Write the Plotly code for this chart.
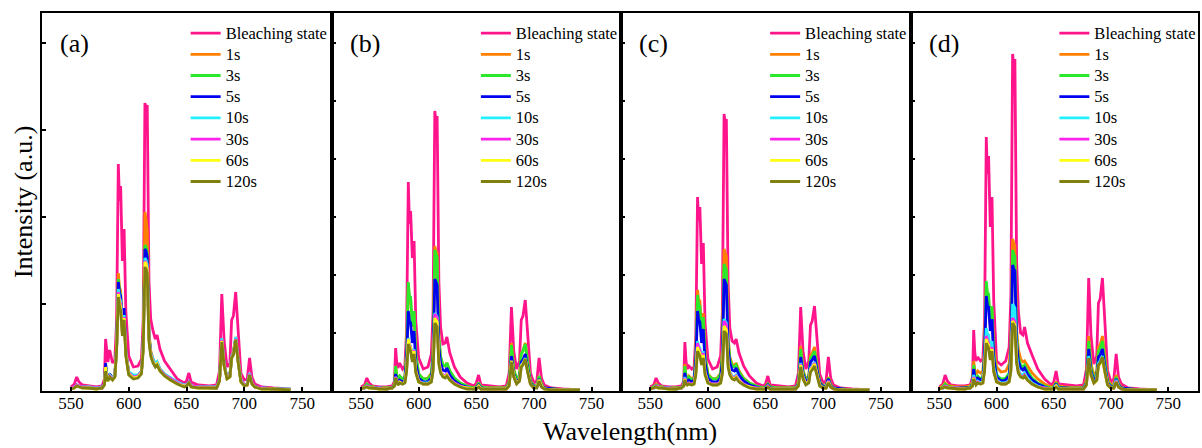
import plotly.graph_objects as go

# ---------------- data (intensity in a.u.) ----------------
wavelength = [550, 553, 555, 557, 560, 566, 572, 577, 579, 580,
              581, 582, 583.5, 586, 588, 589.5, 591, 592, 593, 594.5,
              596, 597.5, 600, 604, 608, 611, 612.5, 614, 615, 616,
              617.5, 619, 621, 623, 624.5, 627, 631, 636, 642, 648,
              650, 652, 654, 660, 670, 676, 678.5, 680.5, 682.5, 685,
              687.5, 689, 690.5, 692.5, 694.5, 697, 700, 702.5, 704.5, 706.5,
              709, 715, 725, 740]

series_names = ["Bleaching state", "1s", "3s", "5s", "10s", "30s", "60s", "120s"]
panel_labels = ["(a)", "(b)", "(c)", "(d)"]
x_ticks = [550, 600, 650, 700, 750]

# panel (a)
a_bleach = [4,7,14,9,6,5,4,5,12,52, 35,29,41,28,31,70,227,190,205,130,
            162,80,35,24,25,32,70,288,282,286, 110,72,60,52,56,42,30,22,12,8,
            10,18,9,6,5,6,20,97,50,24, 28,71,75,99,60,18,11,12,33,14, 7,4,3,2]
a_1s = [2,4,6,5,4,3,3,3,7,26, 15,12,17,13,16,46,118,104,100,66,
        80,40,19,14,15,20,48,179,172,160, 60,40,32,27,29,22,17,12,8,5,
        6,9,5,4,3,3,11,52,27,13, 15,35,39,54,32,10,6,7,17,8, 4,3,2,1]
a_3s = [2,4,6,5,4,3,3,3,7,25, 14,12,16,13,15,44,112,100,96,63,
        78,38,18,14,15,19,46,146,144,138, 56,38,31,26,28,21,16,12,8,5,
        6,9,5,4,3,3,11,51,26,13, 15,34,38,53,31,10,6,7,17,8, 4,3,2,1]
a_5s = [2,4,6,5,4,3,3,3,8,28, 15,13,17,13,15,44,109,98,95,62,
        83,38,18,14,15,19,45,142,140,134, 55,38,31,26,28,21,16,12,8,5,
        6,9,5,4,3,3,11,50,26,13, 15,34,37,52,31,10,6,7,17,8, 4,3,2,1]
a_10s = [2,4,6,5,4,4,3,4,7,22, 14,12,16,13,16,43,102,93,90,60,
         76,38,19,16,16,20,44,133,131,126, 54,38,32,27,29,22,17,13,9,6,
         6,9,5,4,4,4,11,53,27,14, 16,35,38,54,32,11,6,7,18,8, 4,3,2,2]
a_30s = [2,4,6,5,4,3,3,3,7,21, 13,11,15,12,15,42,99,90,87,58,
         74,37,18,14,15,19,43,130,128,123, 52,37,30,25,27,21,16,12,8,5,
         5,9,5,4,3,3,10,51,26,13, 15,34,37,52,31,10,6,6,17,8, 4,3,2,1]
a_60s = [2,3,5,4,3,3,2,3,6,24, 12,10,14,11,14,41,97,88,84,57,
         73,36,17,13,14,18,42,129,127,121, 51,36,29,25,27,20,15,11,7,5,
         5,8,4,3,3,3,10,50,25,12, 14,33,36,51,30,9,5,6,16,7, 4,2,2,1]
a_120s = [2,3,5,4,3,3,2,3,6,20, 12,10,14,11,14,40,94,85,80,55,
          71,35,16,12,13,17,40,124,122,118, 50,35,28,24,26,20,15,11,7,4,
          5,8,4,3,3,3,10,49,25,12, 14,33,36,51,30,9,5,6,16,7, 4,2,2,1]

# panel (b)
b_bleach = [4,6,13,8,5,4,4,5,10,43, 28,23,28,22,25,60,209,167,180,133,
            150,70,33,22,24,37,80,280,270,275, 110,64,47,48,54,38,24,14,8,5,
            8,16,6,5,4,5,18,84,40,22, 30,71,75,91,55,18,8,10,33,13, 6,3,2,1]
b_1s = [2,4,7,5,4,3,3,3,7,25, 15,12,15,12,14,38,105,92,92,64,
        78,36,17,12,13,18,40,145,140,138, 55,34,26,25,28,20,13,8,5,3,
        4,8,4,3,3,3,9,48,22,12, 16,38,40,48,30,10,5,5,15,7, 3,2,1,1]
b_3s = [2,4,7,5,4,3,3,3,7,25, 15,12,15,12,14,40,109,95,94,65,
        80,37,17,12,12,17,39,141,137,134, 54,34,26,25,28,20,13,8,5,3,
        4,8,4,3,3,3,9,46,21,12, 16,37,40,47,30,10,5,5,15,7, 3,2,1,1]
b_5s = [2,3,5,4,3,3,2,3,6,17, 11,9,11,9,11,30,80,70,68,48,
        60,28,13,9,9,13,30,112,108,106, 43,28,21,20,23,16,10,6,4,2,
        3,6,3,2,2,2,7,35,17,9, 12,29,31,37,23,8,4,4,12,5, 3,2,1,1]
b_10s = [2,3,5,4,3,3,2,3,5,14, 9,7,9,7,9,22,53,47,45,33,
         42,20,10,8,8,10,22,78,76,74, 31,20,16,15,17,12,8,5,3,2,
         2,5,2,2,2,2,6,30,15,8, 10,26,28,33,20,7,3,4,11,5, 2,1,1,1]
b_30s = [2,3,5,4,3,3,2,3,5,14, 9,7,9,7,9,22,52,46,44,32,
         41,20,10,7,7,10,22,77,75,73, 30,20,16,15,17,12,8,5,3,2,
         2,5,2,2,2,2,6,30,15,8, 10,25,27,32,20,7,3,4,11,5, 2,1,1,1]
b_60s = [2,3,4,3,3,2,2,3,5,13, 8,7,9,7,9,21,52,45,43,31,
         40,19,9,7,7,10,21,73,71,69, 29,19,15,14,16,11,7,4,3,2,
         2,5,2,2,2,2,6,30,15,8, 10,25,27,32,20,7,3,4,11,5, 2,1,1,1]
b_120s = [2,3,4,3,3,2,2,3,5,13, 8,6,8,7,8,19,47,42,40,29,
          37,18,9,7,7,9,20,68,66,64, 27,18,14,13,15,11,7,4,2,2,
          2,4,2,2,2,2,5,29,14,7, 10,24,26,32,19,7,3,3,10,4, 2,1,1,1]

# panel (c)
c_bleach = [4,6,13,8,5,4,4,5,10,49, 30,22,25,22,24,55,194,170,184,127,
            148,68,32,22,24,35,78,277,268,272, 108,63,50,48,52,38,25,15,8,5,
            7,15,6,5,4,5,18,84,40,22, 30,66,70,85,52,17,8,10,34,13, 6,3,2,1]
c_1s = [2,4,7,5,4,3,3,3,7,27, 15,12,15,12,14,37,101,90,90,62,
        78,36,17,12,13,18,40,142,138,135, 55,34,27,25,28,20,13,8,5,3,
        4,8,4,3,3,3,9,45,21,12, 15,36,38,44,28,9,5,5,14,7, 3,2,1,1]
c_3s = [2,4,6,5,4,3,3,3,7,25, 14,11,14,11,13,35,96,86,85,59,
        74,34,16,12,12,17,37,127,124,121, 50,32,25,24,26,19,12,8,5,3,
        4,7,4,3,3,3,8,42,20,11, 14,33,35,40,26,9,5,5,13,6, 3,2,1,1]
c_5s = [2,3,5,4,3,3,2,3,6,18, 11,9,11,9,11,30,80,71,69,48,
        62,28,13,9,9,13,30,112,108,106, 43,28,21,20,23,16,10,6,4,2,
        3,6,3,2,2,2,7,34,17,9, 12,29,31,35,22,8,4,4,12,5, 3,2,1,1]
c_10s = [2,3,5,4,3,3,2,3,5,14, 8,7,8,7,8,20,50,45,43,31,
         40,19,9,7,7,9,20,72,70,68, 29,19,15,14,16,11,7,4,3,2,
         2,5,2,2,2,2,6,28,14,7, 9,23,25,29,18,6,3,3,10,4, 2,1,1,1]
c_30s = [2,3,5,4,3,3,2,3,5,13, 8,7,8,7,8,19,48,43,41,30,
         38,18,9,7,7,9,19,70,68,66, 28,18,14,13,15,11,7,4,3,2,
         2,5,2,2,2,2,6,27,14,7, 9,22,24,28,18,6,3,3,10,4, 2,1,1,1]
c_60s = [2,3,4,3,3,2,2,3,5,12, 7,6,7,6,7,18,44,40,38,28,
         36,17,8,6,6,8,18,65,63,61, 26,17,13,12,14,10,6,4,2,2,
         2,4,2,2,2,2,5,26,13,7, 9,21,23,27,17,6,3,3,9,4, 2,1,1,1]
c_120s = [2,3,4,3,3,2,2,3,5,11, 7,6,7,6,7,16,40,37,35,26,
          33,16,8,6,6,8,17,60,58,57, 24,16,12,11,13,9,6,3,2,2,
          2,4,2,2,2,2,5,24,12,6, 8,19,21,25,16,5,3,3,8,4, 2,1,1,1]

# panel (d)
d_bleach = [4,7,16,10,6,5,5,6,14,61, 38,30,34,30,32,70,254,217,235,164,
            194,90,30,26,30,44,95,337,325,332, 130,80,58,56,64,48,36,22,12,6,
            9,20,7,6,5,6,22,113,55,27, 35,88,92,113,70,20,9,12,37,14, 7,3,2,1]
d_1s = [3,5,8,6,5,4,4,5,9,30, 20,17,20,18,20,42,105,95,93,66,
        82,42,24,19,20,27,50,152,148,145, 62,42,32,29,30,25,18,12,7,4,
        5,9,5,4,3,4,11,55,28,15, 20,44,46,55,35,12,6,7,16,8, 4,2,1,1]
d_3s = [2,4,7,5,4,3,3,4,8,26, 15,12,15,12,14,40,110,98,97,68,
        85,38,16,12,13,18,40,141,137,134, 54,34,26,24,26,20,13,8,5,3,
        4,8,4,3,3,3,9,50,24,12, 17,40,42,50,31,10,5,5,14,7, 3,2,1,1]
d_5s = [2,3,5,4,3,3,3,3,7,22, 13,11,13,11,12,35,95,85,84,60,
        72,33,14,10,11,15,35,126,122,120, 48,30,23,21,23,17,11,7,4,2,
        3,7,3,3,2,3,8,42,20,10, 14,34,36,42,26,8,4,4,12,6, 3,2,1,1]
d_10s = [2,3,5,4,3,3,2,3,6,16, 10,8,10,8,9,26,63,57,56,40,
         50,24,11,8,8,11,25,87,85,83, 35,22,17,16,18,13,8,5,3,2,
         2,6,2,2,2,2,7,35,17,8, 12,28,30,35,22,7,3,4,11,5, 2,1,1,1]
d_30s = [2,3,5,4,3,3,2,3,5,14, 9,7,9,7,8,23,55,50,48,35,
         44,21,10,7,7,10,22,73,71,69, 30,20,15,14,16,11,7,4,3,2,
         2,5,2,2,2,2,6,32,16,8, 11,26,28,33,20,7,3,3,10,4, 2,1,1,1]
d_60s = [2,3,4,3,3,2,2,3,5,13, 8,7,8,7,8,22,52,48,46,33,
         42,20,9,7,7,9,21,70,68,66, 29,19,14,13,15,11,7,4,2,2,
         2,5,2,2,2,2,6,31,15,8, 10,25,27,32,19,6,3,3,9,4, 2,1,1,1]
d_120s = [2,3,4,3,3,2,2,3,5,12, 8,6,8,7,8,20,48,45,43,31,
          40,19,9,7,7,9,20,68,66,64, 28,18,14,13,15,11,7,4,2,2,
          2,4,2,2,2,2,6,33,16,8, 11,26,28,34,20,6,3,3,9,4, 2,1,1,1]

# ---------------- styling ----------------
colors = ["#FF148C", "#FF8000", "#2BE82B", "#0000F0",
          "#22F0FF", "#FF22EE", "#FFFF11", "#808010"]
panels = [
    [a_bleach, a_1s, a_3s, a_5s, a_10s, a_30s, a_60s, a_120s],
    [b_bleach, b_1s, b_3s, b_5s, b_10s, b_30s, b_60s, b_120s],
    [c_bleach, c_1s, c_3s, c_5s, c_10s, c_30s, c_60s, c_120s],
    [d_bleach, d_1s, d_3s, d_5s, d_10s, d_30s, d_60s, d_120s],
]
y_step = [348 / 4, 348 / 6, 348 / 6, 348 / 6]
y_max = 378
x_range = [525, 776]

W, H = 1202, 448
ML, MR, MT, MB = 42, 1, 13, 57
edges_px = [42, 333, 623, 913, 1201]
plot_w = W - ML - MR
plot_h = H - MT - MB
domains = [[(edges_px[i] - ML) / plot_w, (edges_px[i + 1] - ML) / plot_w] for i in range(4)]

FONT = "Liberation Serif, serif"

fig = go.Figure()
for p, series in enumerate(panels):
    sfx = "" if p == 0 else str(p + 1)
    for name, vals, col in zip(series_names, series, colors):
        assert len(vals) == len(wavelength)
        fig.add_trace(go.Scatter(
            x=wavelength, y=vals, mode="lines",
            name="<span style='font-size:16.5px'>" + name + "</span>",
            line=dict(color=col, width=2.8),
            xaxis="x" + sfx, yaxis="y" + sfx,
            legend="legend" + sfx,
        ))

layout = dict(
    width=W, height=H,
    margin=dict(l=ML, r=MR, t=MT, b=MB),
    paper_bgcolor="white", plot_bgcolor="white",
    font=dict(family=FONT, color="black", size=17),
    annotations=[],
)

for p in range(4):
    sfx = "" if p == 0 else str(p + 1)
    layout["xaxis" + sfx] = dict(
        domain=domains[p], range=x_range, anchor="y" + sfx,
        tickmode="array", tickvals=x_ticks, ticktext=[str(t) for t in x_ticks],
        ticks="inside", ticklen=4, tickwidth=1.5, tickcolor="black",
        ticklabelstandoff=-4,
        showline=True, linecolor="black", linewidth=1.6, mirror=True,
        showgrid=False, zeroline=False,
        tickfont=dict(family=FONT, size=17, color="black"),
    )
    layout["yaxis" + sfx] = dict(
        domain=[0, 1], range=[0, y_max], anchor="x" + sfx,
        tick0=0, dtick=y_step[p], ticks="inside", ticklen=4, tickwidth=1.5,
        tickcolor="black", showticklabels=False,
        showline=True, linecolor="black", linewidth=1.6, mirror=True,
        showgrid=False, zeroline=False,
    )
    left_frac = domains[p][0]
    layout["legend" + sfx] = dict(
        x=left_frac + 144 / plot_w, y=1 - 4.5 / plot_h, xanchor="left", yanchor="top",
        bgcolor="rgba(0,0,0,0)", borderwidth=0,
        font=dict(family=FONT, size=14, color="black"),
        tracegroupgap=0,
    )
    layout["annotations"].append(dict(
        text=panel_labels[p], xref="x" + sfx + " domain", yref="y" + sfx + " domain",
        x=16 / 290, y=(391 - 44) / plot_h, xanchor="left", yanchor="middle",
        showarrow=False, font=dict(family=FONT, size=26, color="black"),
    ))

layout["annotations"].append(dict(
    text="Wavelength(nm)", xref="paper", yref="paper",
    x=(632 - ML) / plot_w, y=(391 - 432) / plot_h, xanchor="center", yanchor="middle",
    showarrow=False, font=dict(family=FONT, size=26, color="black"),
))
layout["annotations"].append(dict(
    text="Intensity (a.u.)", xref="paper", yref="paper",
    x=(23 - ML) / plot_w, y=0.5, xanchor="center", yanchor="middle",
    textangle=-90, showarrow=False, font=dict(family=FONT, size=26, color="black"),
))

fig.update_layout(**layout)
fig.write_html("out.html", config={"displayModeBar": False},
               post_script="document.body.style.margin='0px';")
